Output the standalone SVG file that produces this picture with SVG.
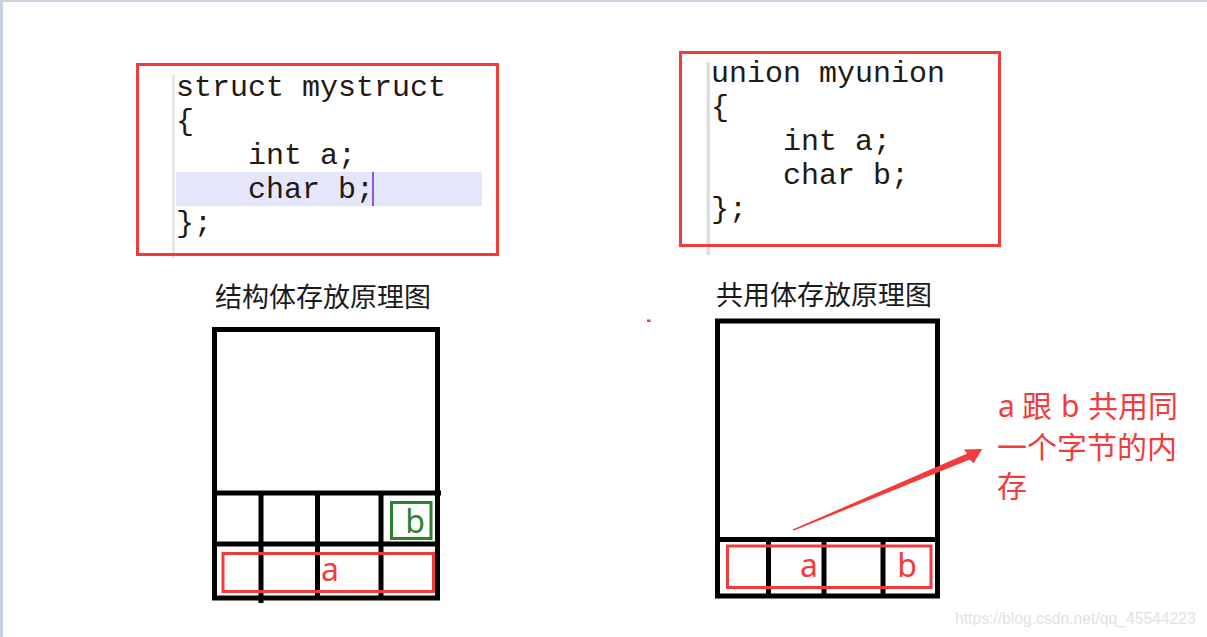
<svg xmlns="http://www.w3.org/2000/svg" width="1207" height="637" viewBox="0 0 1207 637">
  <style>
    .code { font-family: "Liberation Mono", "Courier New", monospace; font-size: 30px; fill: #221a12; }
    .box { fill: none; stroke: #f03c3c; stroke-width: 3; }
    .title { font-family: "Noto Sans CJK SC", "Noto Sans", sans-serif; font-size: 27px; fill: #1a1a1a; }
    .cell { fill: none; stroke: #000; stroke-width: 5; }
    .ln { stroke: #000; stroke-width: 5; }
    .lbl { font-family: "Noto Sans", "Noto Sans CJK SC", sans-serif; font-size: 32px; text-anchor: middle; }
    .red { fill: #f03c3c; }
    .note { font-family: "Noto Sans", "Noto Sans CJK SC", sans-serif; font-size: 30px; fill: #f03c3c; }
    .gutter { fill: #dedede; }
  </style>
  <rect x="0" y="0" width="1207" height="637" fill="#c8d2e3"/>
  <rect x="3" y="2" width="1204" height="635" fill="#ffffff"/>

  <g id="struct-code">
    <rect x="176" y="172" width="306" height="34" fill="#e6e6fa"/>
    <rect x="172.5" y="75" width="2" height="183" class="gutter"/>
    <text class="code" x="176" y="96">struct mystruct</text>
    <text class="code" x="176" y="130">{</text>
    <text class="code" x="248" y="164">int a;</text>
    <text class="code" x="248" y="198">char b;</text>
    <text class="code" x="176" y="232">};</text>
    <line x1="373" y1="172" x2="373" y2="206" stroke="#7a1fd6" stroke-width="1.5"/>
    <rect x="137.5" y="64.5" width="360" height="190" class="box"/>
  </g>

  <g id="union-code">
    <rect x="706.5" y="62" width="3.5" height="193" class="gutter"/>
    <text class="code" x="711" y="82">union myunion</text>
    <text class="code" x="711" y="116">{</text>
    <text class="code" x="783" y="150">int a;</text>
    <text class="code" x="783" y="184">char b;</text>
    <text class="code" x="711" y="218">};</text>
    <rect x="680.5" y="52.5" width="319" height="193" class="box"/>
  </g>

  <g id="struct-diagram">
    <text class="title" x="215" y="307">结构体存放原理图</text>
    <rect x="214.5" y="329.5" width="223" height="268.5" class="cell"/>
    <line x1="214.5" y1="493" x2="441" y2="493" class="ln"/>
    <line x1="214.5" y1="544" x2="437.5" y2="544" class="ln"/>
    <line x1="261" y1="493" x2="261" y2="603" class="ln"/>
    <line x1="317.5" y1="493" x2="317.5" y2="598" class="ln"/>
    <line x1="381" y1="493" x2="381" y2="598" class="ln"/>
    <rect x="391.5" y="502.5" width="39.5" height="36" fill="none" stroke="#2d832d" stroke-width="3"/>
    <text class="lbl" x="415" y="533" fill="#2d832d">b</text>
    <rect x="223" y="553.5" width="210.5" height="38" class="box"/>
    <text class="lbl red" x="330" y="581">a</text>
  </g>

  <g id="union-diagram">
    <text class="title" x="716" y="305">共用体存放原理图</text>
    <rect x="717.5" y="321" width="220" height="275" class="cell"/>
    <line x1="717.5" y1="539.5" x2="937.5" y2="539.5" class="ln"/>
    <line x1="768.5" y1="539.5" x2="768.5" y2="596" class="ln"/>
    <line x1="824" y1="539.5" x2="824" y2="596" class="ln"/>
    <line x1="883" y1="539.5" x2="883" y2="596" class="ln"/>
    <rect x="727.5" y="546" width="203.5" height="41.5" class="box"/>
    <text class="lbl red" x="809" y="577">a</text>
    <text class="lbl red" x="907" y="577">b</text>
  </g>

  <g id="note">
    <text class="note" y="417"><tspan x="998">a</tspan><tspan x="1022">跟</tspan><tspan x="1061">b</tspan><tspan x="1088">共用同</tspan></text>
    <text class="note" x="997" y="458">一个字节的内</text>
    <text class="note" x="997" y="497">存</text>
  </g>

  <g id="connectors">
    <polygon points="792.6,529.5 967.2,453.5 963.8,449.5 982.3,449 973.6,463.2 969.8,459.5 793.4,530.7" fill="#f03c3c"/>
  </g>

  <rect x="647" y="319.5" width="3.5" height="2.5" fill="#f03c3c"/>
  <text x="955" y="624" font-family="Liberation Sans, Arial, sans-serif" font-size="15.7" fill="#e2e2e2">https://blog.csdn.net/qq_45544223</text>
</svg>
